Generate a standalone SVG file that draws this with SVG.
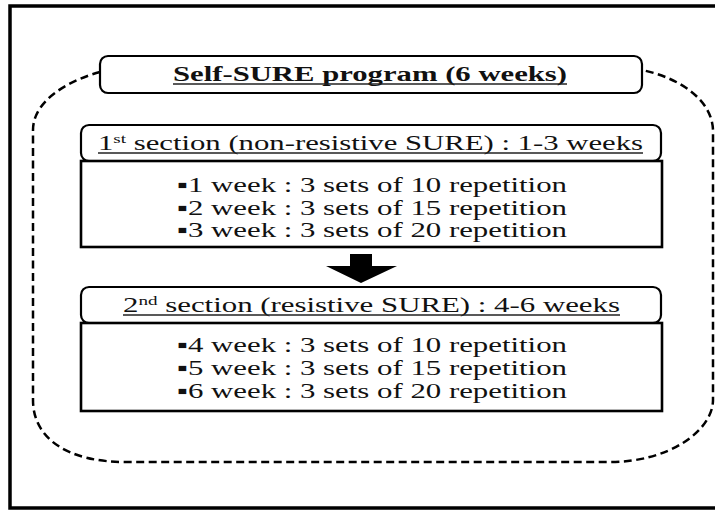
<svg xmlns="http://www.w3.org/2000/svg" width="715" height="510" viewBox="0 0 715 510">
<style>
.frame{fill:none;stroke:#000;stroke-width:3.5}
.dash{fill:none;stroke:#000;stroke-width:2.5;stroke-dasharray:8 4.5}
.hdr{fill:#fff;stroke:#000;stroke-width:2.2}
.box{fill:#fff;stroke:#000;stroke-width:2.6}
.ul{stroke:#222;stroke-width:1.4}
.t{font-family:"Liberation Serif","Times New Roman",serif;fill:#111}
.title{font-size:20px;font-weight:bold}
.h{font-size:21px}
.c{font-size:21px}
.sup{font-size:13px}
</style>
<rect class="frame" x="10" y="6" width="740" height="502"/>
<g id="program">
  <path class="dash" d="M100,72 C70,80 33,100 33,130 L33,400 C33,440 70,462 125,462 L610,462 C670,462 713,430 713,400 L713,130 C712,100 680,78 642,70"/>
  <rect class="hdr" x="100" y="56" width="542" height="37" rx="8"/>
  <text class="t title" x="173" y="81" textLength="394" lengthAdjust="spacingAndGlyphs">Self-SURE program (6 weeks)</text>
  <line class="ul" x1="173" y1="84" x2="567" y2="84"/>
</g>
<g id="section1-header">
  <rect class="hdr" x="81" y="125" width="580" height="36" rx="8"/>
  <text class="t h" x="98" y="150" textLength="545" lengthAdjust="spacingAndGlyphs">1<tspan class="sup" dy="-7">st</tspan><tspan dy="7"> section (non-resistive SURE) : 1-3 weeks</tspan></text>
  <line class="ul" x1="98" y1="153" x2="643" y2="153"/>
</g>
<g id="section1-content">
  <rect class="box" x="81" y="161" width="581" height="86"/>
  <text class="t c" x="177" y="192" textLength="390" lengthAdjust="spacingAndGlyphs">▪1 week : 3 sets of 10 repetition</text>
  <text class="t c" x="177" y="214.5" textLength="390" lengthAdjust="spacingAndGlyphs">▪2 week : 3 sets of 15 repetition</text>
  <text class="t c" x="177" y="237" textLength="390" lengthAdjust="spacingAndGlyphs">▪3 week : 3 sets of 20 repetition</text>
</g>
<g id="connectors">
  <polygon points="350,254 372,254 372,266 397,266 361,283 326,266 350,266" fill="#000"/>
</g>
<g id="section2-header">
  <rect class="hdr" x="81" y="287" width="580" height="36" rx="8"/>
  <text class="t h" x="123" y="312" textLength="497" lengthAdjust="spacingAndGlyphs">2<tspan class="sup" dy="-7">nd</tspan><tspan dy="7"> section (resistive SURE) : 4-6 weeks</tspan></text>
  <line class="ul" x1="123" y1="315" x2="620" y2="315"/>
</g>
<g id="section2-content">
  <rect class="box" x="81" y="323" width="581" height="88"/>
  <text class="t c" x="177" y="352" textLength="390" lengthAdjust="spacingAndGlyphs">▪4 week : 3 sets of 10 repetition</text>
  <text class="t c" x="177" y="375" textLength="390" lengthAdjust="spacingAndGlyphs">▪5 week : 3 sets of 15 repetition</text>
  <text class="t c" x="177" y="398" textLength="390" lengthAdjust="spacingAndGlyphs">▪6 week : 3 sets of 20 repetition</text>
</g>
</svg>
